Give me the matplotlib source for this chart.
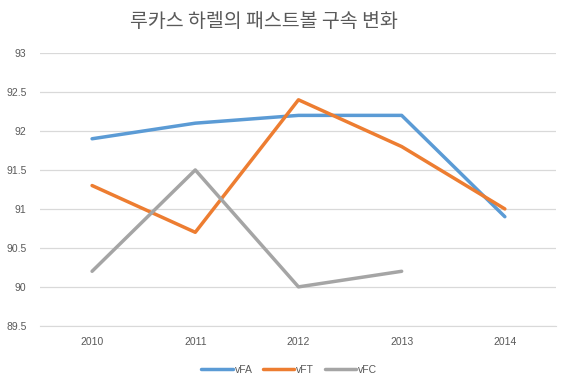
import numpy as np
import matplotlib.pyplot as plt

plt.rcParams['font.family'] = ['Noto Sans CJK KR', 'DejaVu Sans']

years = ['2010', '2011', '2012', '2013', '2014']
vFA = [91.9, 92.1, 92.2, 92.2, 90.9]
vFT = [91.3, 90.7, 92.4, 91.8, 91.0]
vFC = [90.2, 91.5, 90.0, 90.2, np.nan]

fig = plt.figure(figsize=(5.67, 3.87), dpi=100)
ax = fig.add_axes([0.0714, 0.158, 0.91, 0.705])

x = np.arange(len(years))
ax.plot(x, vFA, color='#5B9BD5', lw=2.5, label='vFA', solid_capstyle='round')
ax.plot(x, vFT, color='#ED7D31', lw=2.5, label='vFT', solid_capstyle='round')
ax.plot(x, vFC, color='#A5A5A5', lw=2.5, label='vFC', solid_capstyle='round')

ax.set_xlim(-0.5, len(years) - 0.5)
ax.set_ylim(89.5, 93)
ax.set_yticks(np.arange(89.5, 93.01, 0.5))
ax.set_yticklabels(['89.5', '90', '90.5', '91', '91.5', '92', '92.5', '93'])
ax.set_xticks(x)
ax.set_xticklabels(years)
ax.grid(axis='y', color='#D9D9D9', lw=0.9)
ax.set_axisbelow(True)
for s in ['top', 'right', 'left']:
    ax.spines[s].set_visible(False)
ax.spines['bottom'].set_color('#D9D9D9')
ax.tick_params(length=0, labelsize=7.5, colors='#595959', labelfontfamily='Liberation Sans')
ax.tick_params(axis='x', pad=8)
ax.tick_params(axis='y', pad=10)

fig.text(0.465, 0.945, '루카스 하렐의 패스트볼 구속 변화', ha='center', va='center',
         fontsize=14, color='#595959')

fig.legend(loc='center', bbox_to_anchor=(0.51, 0.045), ncol=3, frameon=False,
           handlelength=3, handletextpad=0.2, columnspacing=1.0,
           labelcolor='#595959', prop={'family': 'Liberation Sans', 'size': 7.5})

fig.savefig('out.png', dpi=100, facecolor='white')
